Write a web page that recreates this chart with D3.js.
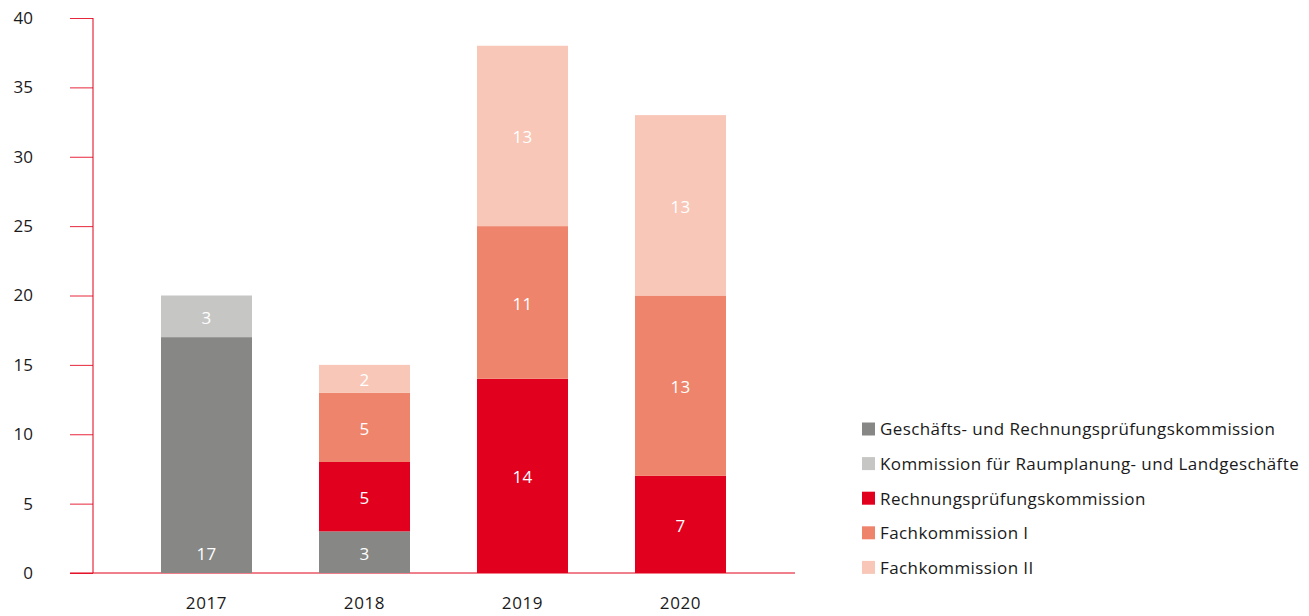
<!DOCTYPE html>
<html><head><meta charset="utf-8">
<script src="https://cdn.jsdelivr.net/npm/d3@7"></script>
<style>body{margin:0;background:#fff;}svg{display:block;font-family:"Open Sans",sans-serif;}</style>
</head><body><svg id="c" width="1309" height="616"></svg>
<script>
const years = ["2017","2018","2019","2020"];
const seriesNames = ["Geschäfts- und Rechnungsprüfungskommission","Kommission für Raumplanung- und Landgeschäfte","Rechnungsprüfungskommission","Fachkommission I","Fachkommission II"];
const geschaefts = [17,3,0,0];
const raumplanung = [3,0,0,0];
const rechnung = [0,5,14,7];
const fach1 = [0,5,11,13];
const fach2 = [0,2,13,13];
const yTicks = [0,5,10,15,20,25,30,35,40];
const colors = ["#878785","#c6c6c5","#e2001f","#ef846c","#f8c7b8"];
const baseLabel = ["2017|0"];

const svg = d3.select("#c");
const x = d3.scaleBand().domain(years).range([127.5,759.5]).paddingInner(0.424).paddingOuter(0.212);
const y = d3.scaleLinear().domain([0,40]).range([573,18]);
const allSeries = [geschaefts,raumplanung,rechnung,fach1,fach2];
const rows = years.map((yr,i)=>{const o={year:yr};seriesNames.forEach((s,j)=>o[s]=allSeries[j][i]);return o;});
const stacked = d3.stack().keys(seriesNames)(rows);

// axes
const axisColor = "#e2001a";
const yAxis = svg.append("g").attr("transform","translate(93,0)")
  .call(d3.axisLeft(y).tickValues(yTicks).tickSize(23).tickPadding(37));
yAxis.select(".domain").attr("stroke",axisColor).attr("d","M0,18V573");
yAxis.selectAll(".tick line").attr("stroke",axisColor).attr("stroke-opacity",0.85);
yAxis.selectAll(".tick text").attr("font-size",17).attr("fill","#1a1a1a").attr("font-family","Open Sans, sans-serif");

svg.append("line").attr("x1",70).attr("x2",795).attr("y1",y(0)).attr("y2",y(0)).attr("stroke",axisColor).attr("stroke-width",1);

const xAxis = svg.append("g").attr("transform","translate(0,573)")
  .call(d3.axisBottom(x).tickSize(0).tickPadding(24));
xAxis.select(".domain").remove();
xAxis.selectAll(".tick text").attr("font-size",17).attr("letter-spacing","0.6px").attr("fill","#1a1a1a").attr("font-family","Open Sans, sans-serif");

// bars
stacked.forEach((layer,j)=>{
  const g = svg.append("g").attr("fill",colors[j]);
  layer.forEach((d,i)=>{
    const v = d[1]-d[0];
    if(v<=0) return;
    g.append("rect").attr("x",x(years[i])).attr("width",x.bandwidth())
      .attr("y",y(d[1])).attr("height",y(d[0])-y(d[1]));
    const isBase = baseLabel.includes(years[i]+"|"+j);
    const ly = isBase ? y(d[0]) - 20 : (y(d[0])+y(d[1]))/2;
    svg.append("text").attr("x",x(years[i])+x.bandwidth()/2).attr("y",ly+1.5)
      .attr("dy","0.35em").attr("text-anchor","middle").attr("fill","#fff")
      .attr("font-size",17).attr("letter-spacing","0.3px").text(v);
  });
});

// legend
const lg = svg.append("g");
seriesNames.forEach((s,j)=>{
  const cy = 429 + j*34.6;
  lg.append("rect").attr("x",862).attr("y",cy-6.5).attr("width",13).attr("height",13).attr("fill",colors[j]);
  lg.append("text").attr("x",880).attr("y",cy+0.5).attr("dy","0.35em").attr("font-size",17).attr("letter-spacing","0.4px").attr("fill","#1a1a1a").text(s);
});
</script></body></html>
